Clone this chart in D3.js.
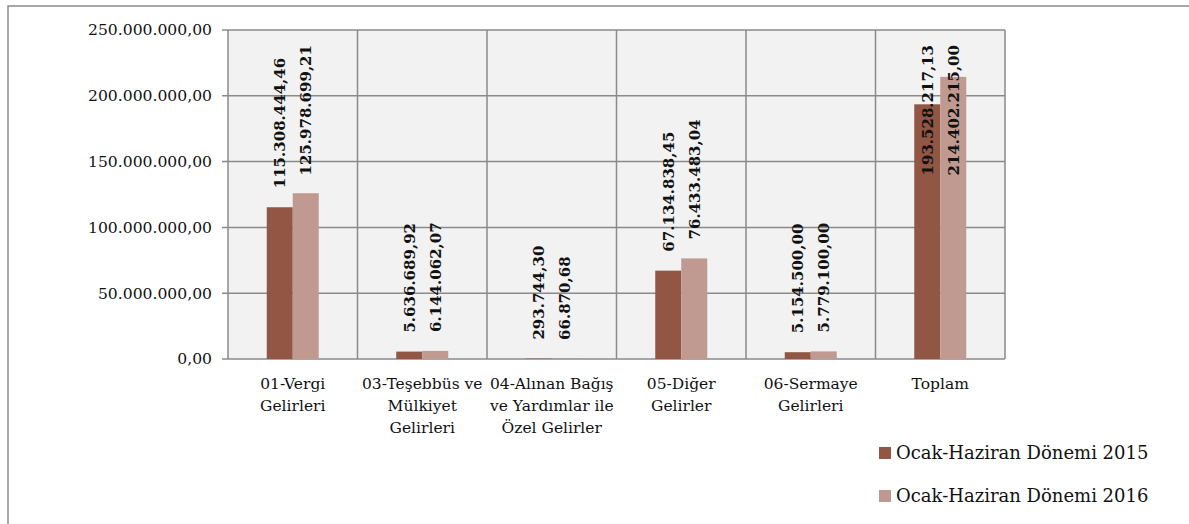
<!DOCTYPE html>
<html>
<head>
<meta charset="utf-8">
<script src="https://cdn.jsdelivr.net/npm/d3@7"></script>
<style>
  body { margin: 0; background: #fff; }
  text { font-family: "DejaVu Serif", "Liberation Serif", serif; fill: #111; }
</style>
</head>
<body>
<div id="chart"></div>
<script>
var categories = [
    ["01-Vergi", "Gelirleri"],
    ["03-Teşebbüs ve", "Mülkiyet", "Gelirleri"],
    ["04-Alınan Bağış", "ve Yardımlar ile", "Özel Gelirler"],
    ["05-Diğer", "Gelirler"],
    ["06-Sermaye", "Gelirleri"],
    ["Toplam"]
];
var seriesNames = ["Ocak-Haziran Dönemi 2015", "Ocak-Haziran Dönemi 2016"];
var values2015 = [115308444.46, 5636689.92, 293744.30, 67134838.45, 5154500.00, 193528217.13];
var values2016 = [125978699.21, 6144062.07, 66870.68, 76433483.04, 5779100.00, 214402215.00];
var labels2015 = ["115.308.444,46", "5.636.689,92", "293.744,30", "67.134.838,45", "5.154.500,00", "193.528.217,13"];
var labels2016 = ["125.978.699,21", "6.144.062,07", "66.870,68", "76.433.483,04", "5.779.100,00", "214.402.215,00"];
var yTicks = [0, 50000000, 100000000, 150000000, 200000000, 250000000];
var yTickLabels = ["0,00", "50.000.000,00", "100.000.000,00", "150.000.000,00", "200.000.000,00", "250.000.000,00"];
var colors = ["#915644", "#c09a90"];

function init() {
    var w = 1189, h = 524;
    var left = 228, right = 1005, top = 30, bottom = 359;

    var svg = d3.select("#chart").append("svg")
        .attr("width", w)
        .attr("height", h);

    // outer frame
    svg.append("rect")
        .attr("x", 8).attr("y", 6)
        .attr("width", w + 20).attr("height", h + 20)
        .attr("fill", "none")
        .attr("stroke", "#8a8a8a")
        .attr("stroke-width", 1.5);

    var x0 = d3.scaleBand()
        .domain(d3.range(categories.length))
        .range([left, right]);

    var x1 = d3.scaleBand()
        .domain([0, 1])
        .range([0, x0.bandwidth()])
        .paddingInner(0)
        .paddingOuter(1.49);

    var y = d3.scaleLinear()
        .domain([0, 250000000])
        .range([bottom, top]);

    // plot background
    svg.append("rect")
        .attr("x", left).attr("y", top)
        .attr("width", right - left).attr("height", bottom - top)
        .attr("fill", "#f2f2f2");

    // horizontal grid
    svg.selectAll(".hgrid")
        .data(yTicks)
        .enter()
        .append("line")
        .attr("x1", left - 6).attr("x2", right)
        .attr("y1", function(d) { return y(d); })
        .attr("y2", function(d) { return y(d); })
        .attr("stroke", "#8a8a8a")
        .attr("stroke-width", 1.5);

    // vertical grid at category boundaries
    svg.selectAll(".vgrid")
        .data(d3.range(categories.length + 1))
        .enter()
        .append("line")
        .attr("x1", function(i) { return left + i * x0.step(); })
        .attr("x2", function(i) { return left + i * x0.step(); })
        .attr("y1", top).attr("y2", bottom)
        .attr("stroke", "#8a8a8a")
        .attr("stroke-width", 1.5);

    // y tick labels
    svg.selectAll(".ylab")
        .data(yTicks)
        .enter()
        .append("text")
        .attr("x", left - 16)
        .attr("y", function(d) { return y(d); })
        .attr("dy", "0.35em")
        .attr("text-anchor", "end")
        .style("font-size", "15.6px")
        .text(function(d, i) { return yTickLabels[i]; });

    var series = [values2015, values2016];
    var seriesLabels = [labels2015, labels2016];

    series.forEach(function(vals, s) {
        var g = svg.append("g");
        g.selectAll("rect")
            .data(vals)
            .enter()
            .append("rect")
            .attr("x", function(d, i) { return x0(i) + x1(s); })
            .attr("y", function(d) { return y(d); })
            .attr("width", x1.bandwidth())
            .attr("height", function(d) { return bottom - y(d); })
            .attr("fill", colors[s]);
    });

    // value labels, rotated, clamped inside plot area
    series.forEach(function(vals, s) {
        vals.forEach(function(d, i) {
            var cx = x0(i) + x1(s) + x1.bandwidth() / 2;
            var t = svg.append("text")
                .style("font-size", "15px")
                .style("font-weight", "bold")
                .attr("text-anchor", "start")
                .text(seriesLabels[s][i]);
            var len = t.node().getComputedTextLength();
            var base = y(d) - 19;
            if (base - len < top + 15) base = top + 15 + len;
            t.attr("transform", "translate(" + (cx + 5.5) + "," + base + ") rotate(-90)");
        });
    });

    // category labels
    categories.forEach(function(lines, i) {
        var t = svg.append("text")
            .attr("x", x0(i) + x0.bandwidth() / 2)
            .attr("y", 389)
            .attr("text-anchor", "middle")
            .style("font-size", "15.5px");
        lines.forEach(function(line, k) {
            t.append("tspan")
                .attr("x", x0(i) + x0.bandwidth() / 2)
                .attr("dy", k === 0 ? 0 : 22)
                .text(line);
        });
    });

    // legend
    seriesNames.forEach(function(name, s) {
        var ly = 453 + s * 43;
        svg.append("rect")
            .attr("x", 879).attr("y", ly - 6)
            .attr("width", 12).attr("height", 12)
            .attr("fill", colors[s]);
        svg.append("text")
            .attr("x", 896).attr("y", ly)
            .attr("dy", "0.35em")
            .style("font-size", "18px")
            .text(name);
    });
}

window.onload = init;
</script>
</body>
</html>
